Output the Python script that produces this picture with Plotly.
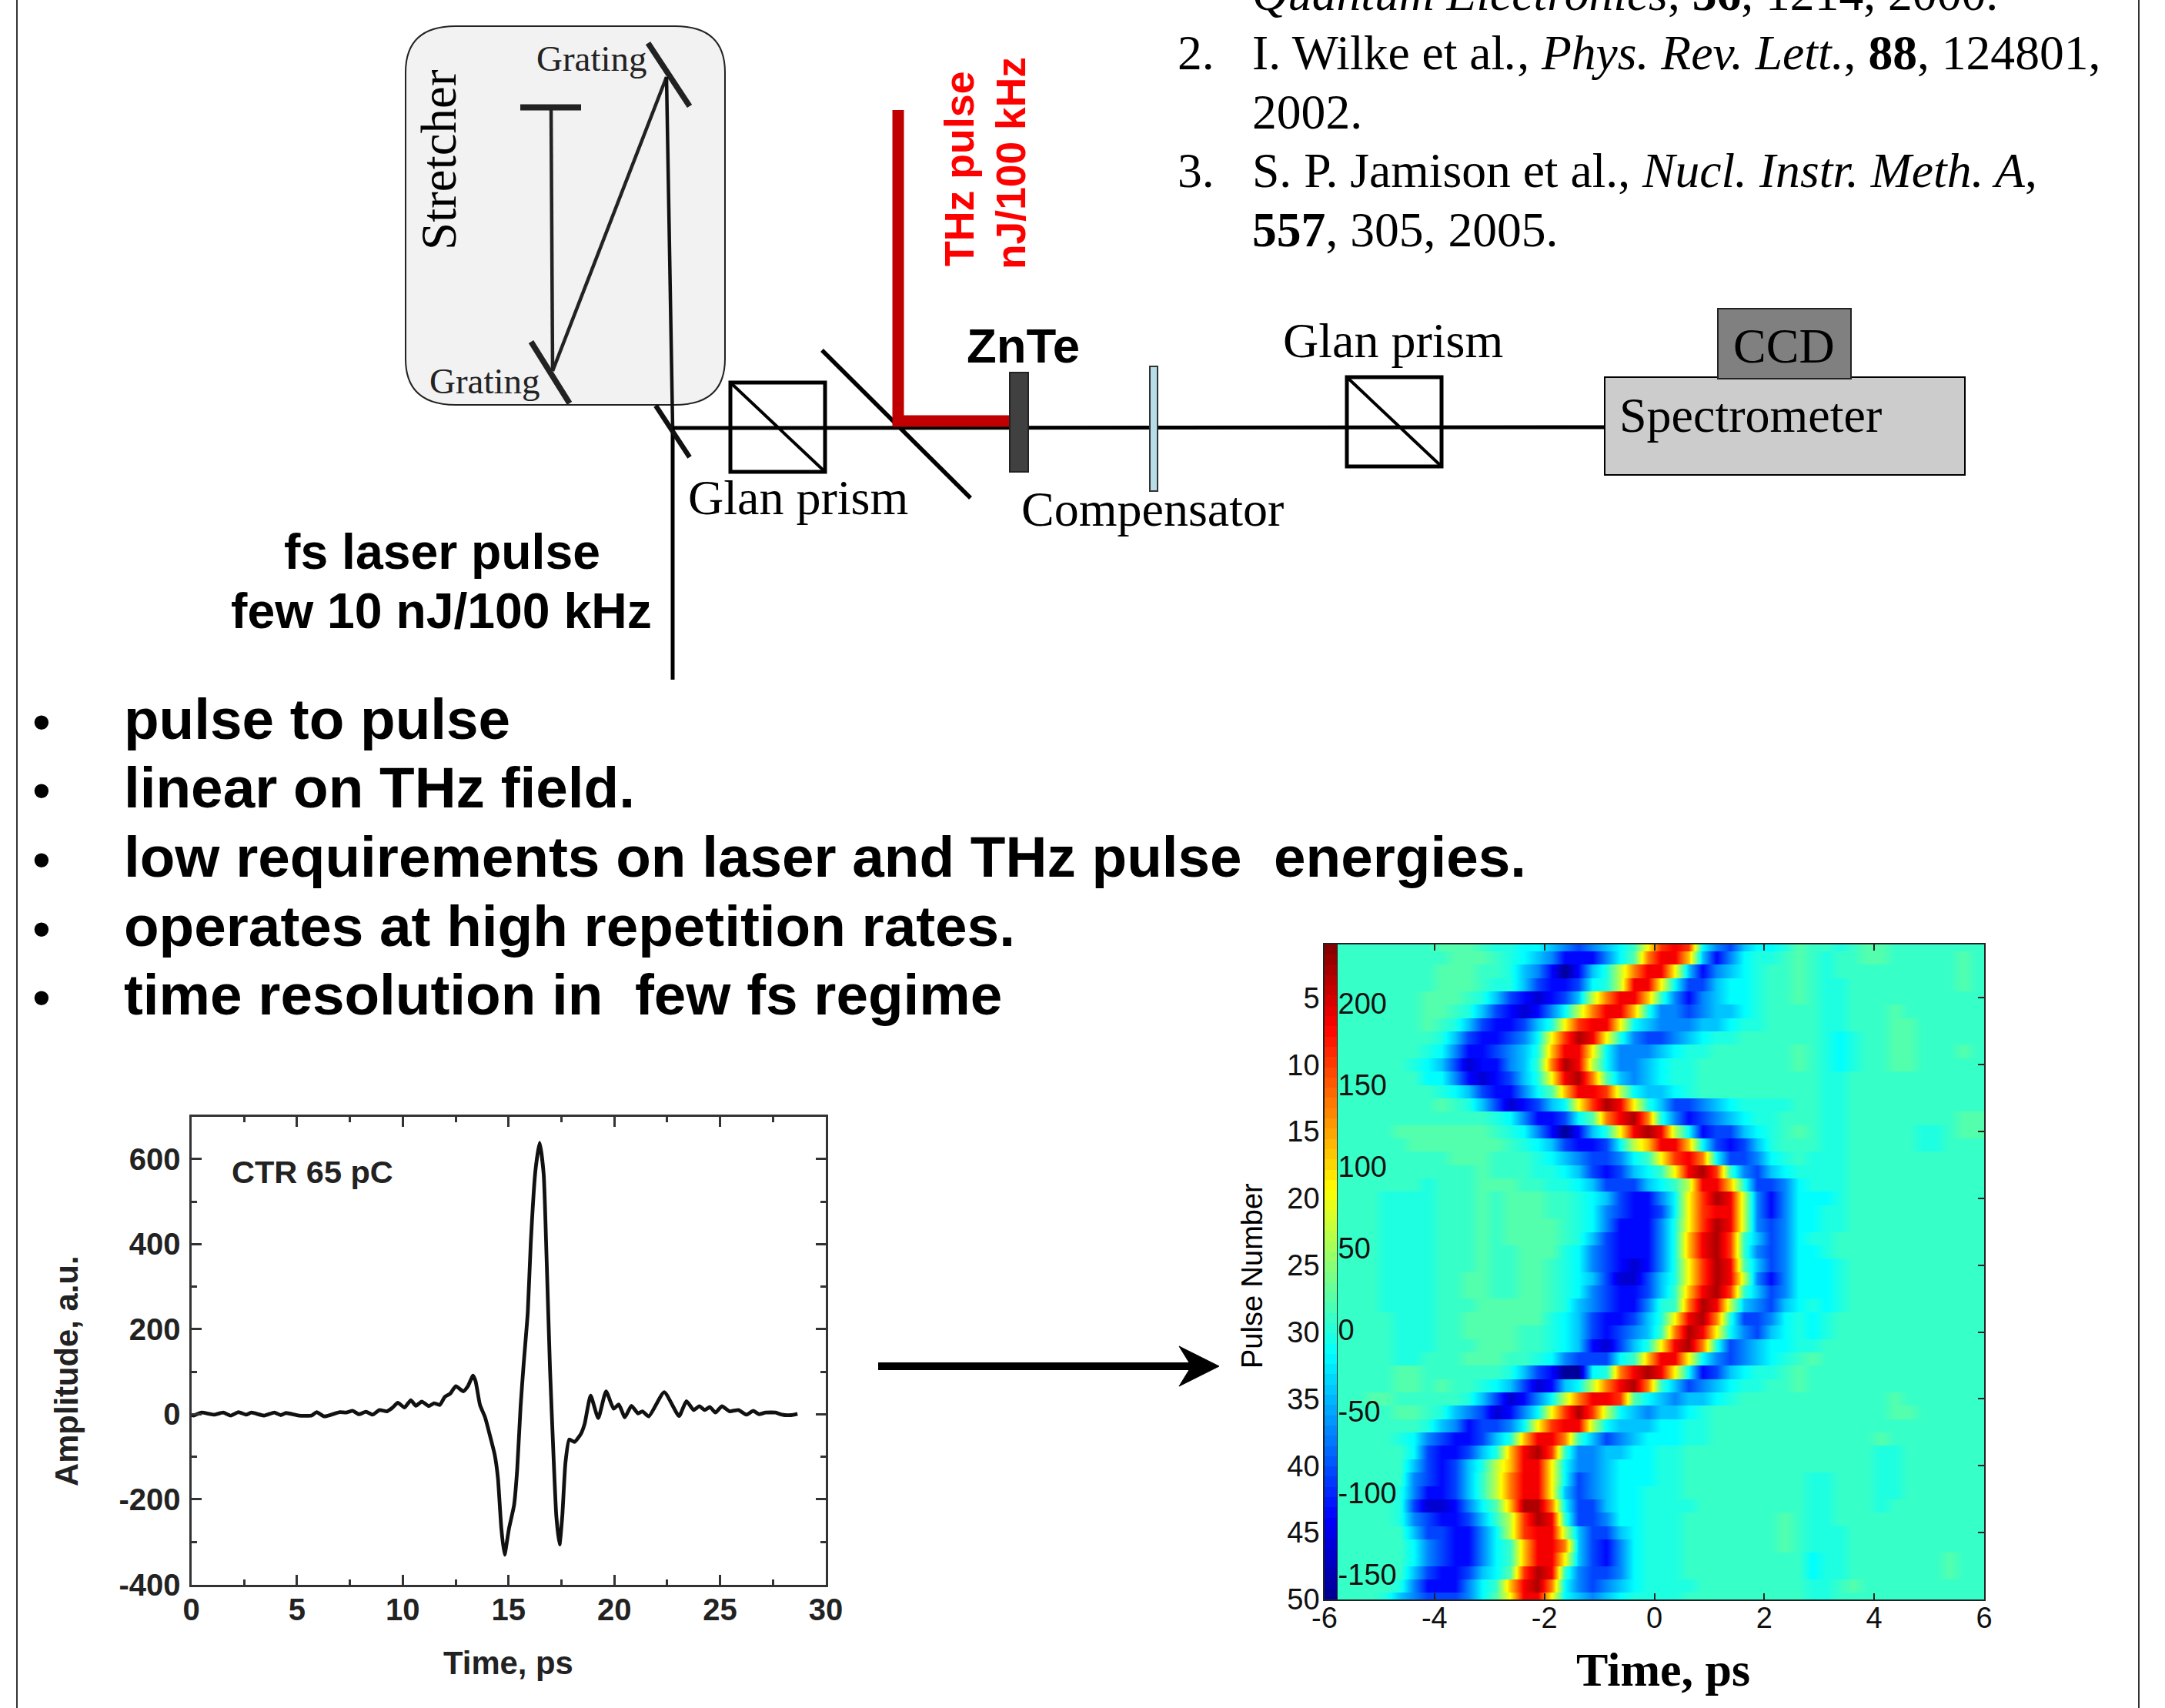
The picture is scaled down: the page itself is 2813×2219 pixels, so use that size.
import plotly.graph_objects as go

W, H = 2813, 2219
def X(px): return px / W
def Y(py): return 1 - py / H

# ---------- CTR waveform (left panel) ----------
time_ps = [0,.11,.48,1.08,1.51,1.87,2.23,2.6,2.84,3.45,3.93,4.23,4.48,5.08,5.69,5.93,6.29,7.02,7.32,7.63,7.93,8.26,8.57,8.9,
 9.26,9.5,9.77,10.08,10.38,10.62,10.9,11.23,11.47,11.75,11.99,12.23,12.51,12.86,13.08,13.32,13.44,13.65,13.89,14.11,14.35,14.5,14.66,14.81,
 15.02,15.26,15.41,15.57,15.71,15.91,16.05,16.27,16.47,16.66,16.8,16.96,17.14,17.26,17.41,17.54,17.69,17.87,18.12,18.42,18.6,18.88,19.24,19.61,
 19.97,20.21,20.5,20.81,21.12,21.33,21.63,22.36,23.06,23.41,23.75,24.02,24.27,24.52,24.78,25.09,25.45,25.87,26.24,26.57,26.84,27.15,27.63,27.93,28.36,28.66]
amplitude = [-2,-3,4,-1,4,-3,5,-1,4,-3,4,-2,3,-3,-3,5,-5,5,4,8,0,6,-1,10,
 7,15,27,16,33,20,30,19,26,22,41,48,66,54,66,91,78,22,-7,-48,-96,-151,-269,-330,
 -269,-214,-129,19,115,240,402,572,638,565,365,107,-114,-240,-306,-240,-114,-59,-65,-46,-22,44,-9,54,
 13,23,-7,20,2,7,-5,52,-4,31,10,19,10,17,4,19,7,10,-1,8,0,4,4,-1,-2,1]

# ---------- Pulse-train map (right panel): one letter per 0.25 ps cell, read row by row ----------
level_codes = list("ABCDEFGHIJKLMNOPQ")
level_values = [-160,-135,-112,-88,-62,-38,-15,-3,7,18,60,86,110,136,165,190,218]
pulse_numbers = list(range(1, 51))
time_bins = [-5.875 + 0.25 * k for k in range(48)]
heat_rows = [
"IIIIIIII JJJIHHGG FEDEFGIL OPOGEDFG GHJIIHIJ JIIIIIII",
"IIIIIIII IJJJIHGF ECCCEGJN PPMFCEGH HIJIHIIJ JIIIIIJI",
"IIIIIIII JJJIIHFE CACFHKNP PLFCEFGH IIJIHIII IIIIIIJI",
"IIIIIIII JJJIHHFD CCDGHKPP LGDDFGGH IIJIHHII IIIIIIJI",
"IIIIIIIJ JJIHFDCB CDFKNPPM IECEFGGH IIJIHHII IIIIIIII",
"IIIIIIIJ JIHFDCBC EGKNPPMH EEDEFFGH IIIIHHII IJIIIIII",
"IIIIIIIJ IHFDCCDF HLOPPLGF EEEFFGHH IIIIHHII IJJIIIII",
"IIIIIIII HFDCCDEG LOQPLHED DEFGHHII IIIIHGHI IJJIIIII",
"IIIIIIIH GECCDEFH MPPLGEEE FGHHIIII IIJIHGHI IJJIIIJI",
"IIIIIIHG FDBCCEFI NQPKGEEF GHHIIIII IIJIHGHI IJJIIIII",
"IIIIIIIG GECBCDFH LPQNJFEF GHHIIIII IIIIHHII IIIIIIII",
"IIIIIIII HGFDCCEG JMPPOKGF FGHIIIII IIIIHHII IIIIIIII",
"IIIIIIII JIHFDBCD FGLOQPLH FDDEFGHH HHIIHHII IIIIIIII",
"IIIIIIII IIIIHGEC CDGJNPQN HECDEFGH HIIIHHII IIIIIIJJ",
"IIIIIJJJ JJJJIHGE CACFHLPQ PKGCDDFG HIJIHHII IIIHHIJJ",
"IIIIIIJJ JJJJJIHG FDCCDGKM PPMGDCDF HIIIHHII IIIHHIII",
"IIIIIIII IJJJIIIH GFEDDEGI LOPNGDDE GHIHHHII IIIIIIII",
"IIIIIIII IIIJIIIH HGFDCDFG ILPQOIED FGHHHHII IIIIIIII",
"IIIIIIIH IIIJJJII HHGFDDDF GIKPPMHD DEGHHHII IIIIIIII",
"IIIIHHHH IIIJIJJJ IIHGFDCC EGLOQPKE CEGGGHII IIIIIIII",
"IIIIHHHH IIIJIJJJ IIHGEDCC DGLOPPKE CEGGHHII IIIIIIII",
"IIIIHHHH IIIJIJJJ JIHGECCC EHLOQPKE DEGGHHII IIIIIIII",
"IIIIHHHH IIIJIJJJ JIHFDCCC EHMPQOIF DEGHHIII IIIIIIII",
"IIIIHHHH IIIJIIJJ JHGEDCCC EHMPQOIE DEGGHIII IIIIIIII",
"IIIIHHHH IIIJIIJJ IHGEDCBC EHLOQPJF DEGGGHII IIIIIIII",
"IIIIHHHH IIJJIIJJ IHGFDBBD FHLOQPKE CEGGGHII IIIIIIII",
"IIIIHHHH IIJJIIJJ IHGEDCCD FIMPQOIF DEGGGHII IIIIIIII",
"IIIIHHHH IIIJJJJJ IHFEDCCE HINQPKFE DFGHGHII IIIIIIII",
"IIIIIHHH IIJJJJJJ HGFDCCDF HLPQNHDD EGHGHIII IIIIIIII",
"IIIIIHHH IIJJJJII HGFDCDEF INQPLGED FGHGHIII IIIIIIII",
"IIIIIHHH IIIJJJII HGFCBDFH LPQNHDEF GGHHIIII IIIIIIII",
"IIIIIHHI IIJJJIIH GEDDDGIM PPLGEDEF GHIJIIII IIIIIIII",
"IIIIIJJI IIIIIHFD CAAGHNPQ PLGCDFGH HIJIIIII IIIIIIII",
"IIIIIJJI JIIHGFDB CFGKNPQN IFDEFGHH IIJIIIII IIIIIIII",
"IIIJJIII IIHFDBCE GKNPPOJG FEFFGHII IIIIIIII IJIIIIII",
"IIIIIJJI HFEDBCEG LOQOKGFE FFGHIIII IIIIIIII IJJIIIII",
"IIIIIIIH FECDDEGL OPPKGFFF GGHHIIII IIIIIIII IIIIIIII",
"IIIIIHGE DCCDFHMP PNIFDEFG GGHHIIII IIIIIIII JIIIIIII",
"IIIIIIGD CCDFHMPQ OIEEFFGG HHIIIIII IIIIIIII HHIIIIII",
"IIIIIIFD CDFHKMPP LGEEFGGG HHIIIIII IIIIIIII HHIIIIII",
"IIIIIIED CDFIKNPP LGDEFGGG HHIIIIII IIIHHIII HHIIIIII",
"IIIIIHEC CDFIKNPP LFDEFGGH HHIIIIII IIIHHIII HHIIIIII",
"IIIIIHDB BCEGJMQQ NGDDFGGH HHHIIIII IIIHHIII HIIIIIII",
"IIIIIHED CCDFIKOQ PIDDEGGH HHIIIIII IJIHHIII IIIIIIII",
"IIIIIIFD DCCEGKOP PKFDDFGH HHIIIIII IJIHHHII IIIIIIII",
"IIIIIIGE DCCEGIMP PNFDCEGH HHIIIIII IJIHHHII IIIIIIII",
"IIIIIIGE DCCEGIMP PLFDCEGH HHIIIIII IIIGHHII IIIIIJII",
"IIIIIIFD CCDFGJOQ PIEDDEGH HHIIIIII IIIGHHII IIIIIJII",
"IIIIIHEC CCEGIMPQ NGEDEFGH HHHIIIII IIIHHIJI IIIIIIII",
"IIIIHFED DDEGJLPP LGFEFGHH HHIIIIII IIIHHIII IIIIIIII",
]
colorbar_ticks = [-150, -100, -50, 0, 50, 100, 150, 200]
colorbar_labels = ["-150", "-100", "-50", "0", "50", "100", "150", "200"]
zmin, zmax = -165, 236

code_map = dict(zip(level_codes, level_values))
z_map = [[code_map[c] for c in r.replace(" ", "")] for r in heat_rows]
# every pulse is one flat strip in y: the map shades along time only
strip_y, strip_z = [], []
for n, row in zip(pulse_numbers, z_map):
    strip_y += [n - 0.49, n + 0.49]
    strip_z += [row, row]

jet = [[0,"rgb(0,0,143)"],[.125,"rgb(0,0,255)"],[.375,"rgb(0,255,255)"],[.625,"rgb(255,255,0)"],[.875,"rgb(255,0,0)"],[1,"rgb(128,0,0)"]]
SANS, SERIF = "Liberation Sans", "Liberation Serif"

fig = go.Figure()
fig.add_trace(go.Scatter(x=time_ps, y=amplitude, mode="lines", xaxis="x", yaxis="y", showlegend=False,
    line=dict(color="#111", width=4.8, shape="spline", smoothing=0.5)))
fig.add_trace(go.Heatmap(x=time_bins, y=strip_y, z=strip_z, xaxis="x2", yaxis="y2", colorscale=jet, zsmooth="best",
    zmin=zmin, zmax=zmax, showscale=False))
# colour key: 64 flat steps of the scale, on its own narrow axes inside the map
key_steps = [zmin + (zmax - zmin) * (i + 0.5) / 64 for i in range(64)]
fig.add_trace(go.Heatmap(x=[0], y=key_steps, z=[[v] for v in key_steps], xaxis="x3", yaxis="y3", colorscale=jet,
    zmin=zmin, zmax=zmax, showscale=False))

shapes, annos = [], []
def line(x0, y0, x1, y1, w=5, c="#000"):
    shapes.append(dict(type="line", xref="paper", yref="paper", x0=X(x0), y0=Y(y0), x1=X(x1), y1=Y(y1), line=dict(color=c, width=w)))
def rect(x0, y0, x1, y1, fill=None, w=2, c="#000"):
    shapes.append(dict(type="rect", xref="paper", yref="paper", x0=X(x0), y0=Y(y0), x1=X(x1), y1=Y(y1),
                       fillcolor=fill or "rgba(0,0,0,0)", line=dict(color=c, width=w)))
def path(pts, fill=None, w=2, c="#000"):
    d = " ".join(f"{cmd} " + " ".join(f"{X(p[i]):.5f},{Y(p[i+1]):.5f}" for i in range(0, len(p), 2)) for cmd, p in pts)
    shapes.append(dict(type="path", xref="paper", yref="paper", path=d, fillcolor=fill or "rgba(0,0,0,0)", line=dict(color=c, width=w)))
def text(x, base, s, size, family=SERIF, color="#000", anchor="left"):
    annos.append(dict(xref="paper", yref="paper", x=X(x), y=Y(base + 0.216 * size), text=s, showarrow=False, xanchor=anchor,
                      yanchor="bottom", align=anchor, borderpad=0, borderwidth=0, font=dict(family=family, size=size, color=color)))
def vtext(x, y, s, size, family=SERIF, color="#000"):
    annos.append(dict(xref="paper", yref="paper", x=X(x), y=Y(y), text=s, showarrow=False, xanchor="center", yanchor="middle",
                      textangle=-90, borderpad=0, borderwidth=0, font=dict(family=family, size=size, color=color)))

# slide frame
line(22, 0, 22, 2219, 2, "#333")
line(2779, 0, 2779, 2219, 2, "#333")

# stretcher box
x0, x1, y0, y1, rx, ry = 527, 942, 34, 526, 65, 60
path([("M",[x0+rx,y0]),("L",[x1-rx,y0]),("Q",[x1,y0,x1,y0+ry]),("L",[x1,y1-ry]),("Q",[x1,y1,x1-rx,y1]),("L",[x0+rx,y1]),
      ("Q",[x0,y1,x0,y1-ry]),("L",[x0,y0+ry]),("Q",[x0,y0,x0+rx,y0]),("Z",[])], fill="#f2f2f2", w=2, c="#222")
line(842, 56, 896, 138, 7.5, "#222")
line(676, 139.5, 755, 139.5, 8, "#222")
line(716, 139.5, 718, 482, 4.5, "#222")
line(690, 444, 740, 524, 7.5, "#222")
line(718, 482, 866, 100, 4.5, "#222")
line(866, 100, 874, 556, 4.5, "#111")
line(874, 556, 874, 883, 5)
line(852, 527, 896, 594, 6.5, "#111")
line(874, 556, 2085, 555, 5)
# Glan prisms
rect(949, 497, 1072, 613, w=5)
line(949, 497, 1072, 613, 4)
rect(1750, 490, 1873, 606, w=5)
line(1750, 490, 1873, 606, 4)
# beam splitter and THz path
line(1068, 455, 1261, 647, 5.5)
line(1167, 143, 1167, 554, 15, "#c00000")
line(1160, 547, 1312, 547, 15, "#c00000")
rect(1312, 484, 1336, 613, fill="#404040", w=2, c="#222")
rect(1494, 476, 1504, 638, fill="#b7dee8", w=2, c="#333")
rect(2085, 490, 2553, 617, fill="#cccccc", w=2)
rect(2232, 401, 2405, 492, fill="#808080", w=2, c="#222")
# arrow
line(1141, 1775, 1555, 1775, 10)
path([("M",[1584,1775]),("L",[1532,1749]),("L",[1548,1775]),("L",[1532,1801]),("Z",[])], fill="#000", w=1)

# references
REF = 63.6
text(1627, 13, "<i>Quantum Electronics</i>, <b>36</b>, 1214, 2000.", REF)
text(1530, 90, "2.", REF)
text(1627, 90, "I. Wilke et al<i>.</i>, <i>Phys. Rev. Lett.</i>, <b>88</b>, 124801,", REF)
text(1627, 167, "2002.", REF)
text(1530, 243, "3.", REF)
text(1627, 243, "S. P. Jamison et al., <i>Nucl. Instr. Meth. A</i>,", REF)
text(1627, 320, "<b>557</b>, 305, 2005.", REF)

# diagram labels
vtext(570, 208, "Stretcher", 65)
text(697, 92, "Grating", 47, color="#222")
text(558, 511, "Grating", 47, color="#222")
text(894, 668, "Glan prism", 64)
text(1327, 683, "Compensator", 64)
text(1667, 464, "Glan prism", 64)
text(2252, 471, "CCD", 64)
text(2104, 561, "Spectrometer", 64)
text(1329, 470, "<b>ZnTe</b>", 63.5, family=SANS, anchor="center")
vtext(1246, 219, "<b>THz pulse</b>", 53.7, family=SANS, color="#ff0000")
vtext(1313, 212, "<b>nJ/100 kHz</b>", 53.4, family=SANS, color="#ff0000")
text(574, 739, "<b>fs laser pulse</b>", 64.3, family=SANS, anchor="center")
text(573, 816, "<b>few 10 nJ/100 kHz</b>", 64.3, family=SANS, anchor="center")

# bullet list
bullets = ["pulse to pulse", "linear on THz field.", "low requirements on laser and THz pulse\u00a0 energies.",
           "operates at high repetition rates.", "time resolution in\u00a0 few fs regime"]
bullet_base = [960, 1049, 1139, 1229, 1318]
for s, b in zip(bullets, bullet_base):
    text(42, b, "•", 68, family=SANS)
    text(161, b, f"<b>{s}</b>", 74.7, family=SANS)

# panel labels
annos.append(dict(xref="x", yref="y", x=1.85, y=570, text="<b>CTR 65 pC</b>", showarrow=False, xanchor="left", yanchor="middle",
                  font=dict(family=SANS, size=41.5, color="#222")))
vtext(86, 1781, "<b>Amplitude, a.u.</b>", 41.8, family=SANS, color="#222")
text(660, 2175, "<b>Time, ps</b>", 41.8, family=SANS, color="#222", anchor="center")
text(2161, 2190, "<b>Time, ps</b>", 62, anchor="center")
vtext(1627, 1658, "Pulse Number", 38, family=SANS)

ax_left = dict(showgrid=False, zeroline=False, showline=True, linecolor="#333", linewidth=3, mirror="allticks", automargin=False,
               ticks="inside", ticklen=13, tickwidth=2.5, tickcolor="#333", tickfont=dict(family=SANS, size=40, color="#222", weight="bold"))
ax_heat = dict(showgrid=False, zeroline=False, showline=True, linecolor="#222", linewidth=1.5, mirror="allticks", automargin=False,
               ticks="inside", ticklen=8, tickwidth=1.5, tickcolor="#222", tickfont=dict(family=SANS, size=38, color="#111"))

left_x = [0, 5, 10, 15, 20, 25, 30]
left_y = [-400, -200, 0, 200, 400, 600]
heat_x = [-6, -4, -2, 0, 2, 4, 6]
heat_y = list(range(5, 55, 5))

fig.update_layout(
    template="none",
    width=W, height=H, autosize=False, margin=dict(l=0, r=0, t=0, b=0, pad=0, autoexpand=False), paper_bgcolor="#fff", plot_bgcolor="#fff",
    showlegend=False, shapes=shapes, annotations=annos,
    xaxis=dict(domain=[X(248.5), X(1073)], range=[0,30], tickvals=left_x, ticktext=[str(v) for v in left_x], anchor="y", ticklabelstandoff=-5,
               minor=dict(dtick=2.5, tick0=0, ticks="inside", ticklen=7, tickwidth=2.5, tickcolor="#333"), **ax_left),
    yaxis=dict(domain=[Y(2058.5), Y(1450.5)], range=[-400,700], tickvals=left_y, ticktext=[str(v) for v in left_y], anchor="x", ticklabelstandoff=3,
               minor=dict(dtick=100, tick0=0, ticks="inside", ticklen=7, tickwidth=2.5, tickcolor="#333"), **ax_left),
    xaxis2=dict(domain=[X(1721), X(2578)], range=[-6,6], tickvals=heat_x, ticktext=[str(v) for v in heat_x], anchor="y2", ticklabelstandoff=-10, **ax_heat),
    yaxis2=dict(domain=[Y(2078), Y(1227)], range=[50,1], tickvals=heat_y, ticktext=[str(v) for v in heat_y], anchor="x2", ticklabelstandoff=-3, **ax_heat),
    xaxis3=dict(domain=[X(1721), X(1737)], range=[-0.5,0.5], visible=False, anchor="y3", fixedrange=True, automargin=False),
    yaxis3=dict(domain=[Y(2078), Y(1227)], range=[zmin,zmax], side="right", anchor="x3", showgrid=False, zeroline=False, automargin=False,
                showline=True, linecolor="#222", linewidth=1, ticks="", tickvals=colorbar_ticks, ticktext=colorbar_labels, ticklabelstandoff=-7,
                tickfont=dict(family=SANS, size=38, color="#111"), fixedrange=True),
)
# the page's default 8 px body margin would push the whole slide off its place
fig.write_html("out.html", config={"displayModeBar": False}, post_script="document.body.style.margin='0';")
